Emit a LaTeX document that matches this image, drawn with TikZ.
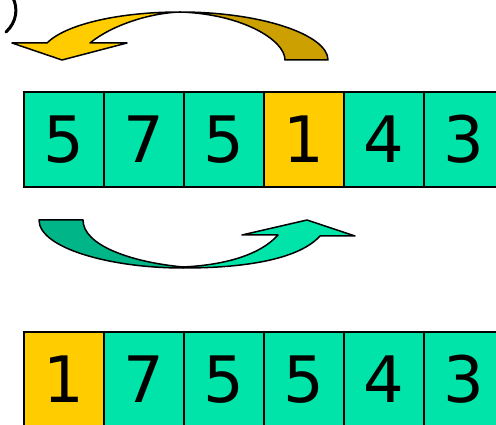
\documentclass[tikz,border=0pt]{standalone}
\usepackage{fontspec}
\setmainfont{DejaVu Sans}
\definecolor{cellgreen}{RGB}{0,228,170}
\definecolor{darkgreen}{RGB}{0,182,136}
\definecolor{pickyellow}{RGB}{255,204,0}
\definecolor{darkgold}{RGB}{204,160,0}

\begin{document}
\begin{tikzpicture}[x=1pt, y=-1pt, line width=1.5pt,
    cell/.style={draw, fill=cellgreen, minimum width=80pt, minimum height=95pt,
                 inner sep=0pt, font=\fontsize{64}{64}\selectfont},
    swoop/.style={draw, line join=round}]
    \useasboundingbox (0,0) rectangle (496,425);
    \clip (0,0) rectangle (496,425);

    % Bracket at the corner
    \draw[line width=3pt, line cap=round] (13,-2) .. controls (18,8) and (17,22) .. (6,32);

    % Row before the move
    \foreach \v/\c [count=\i] in {5/cellgreen, 7/cellgreen, 5/cellgreen, 1/pickyellow, 4/cellgreen, 3/cellgreen}
        \node[cell, fill=\c] (t\i) at (-16+80*\i, 139.5) {\v};

    % Row after the move
    \foreach \v/\c [count=\i] in {1/pickyellow, 7/cellgreen, 5/cellgreen, 5/cellgreen, 4/cellgreen, 3/cellgreen}
        \node[cell, fill=\c] (b\i) at (-16+80*\i, 379.5) {\v};

    % Yellow arrow over the top row
    \filldraw[swoop, fill=darkgold] (180,12) .. controls (262,12) and (328,35) .. (328,60)
        -- (285,60) .. controls (285,40) and (242,14) .. cycle;
    \filldraw[swoop, fill=pickyellow] (180,12) .. controls (120,12) and (66,24) .. (47,43)
        -- (12,43) -- (62,60) -- (127,43) -- (90,43) .. controls (112,25) and (150,13) .. cycle;

    % Green arrow under the top row
    \filldraw[swoop, fill=darkgreen] (39,220) .. controls (39,248) and (110,268) .. (183,268)
        -- (183,267) .. controls (130,262) and (83,245) .. (83,220) -- cycle;
    \filldraw[swoop, fill=cellgreen] (183,268) .. controls (250,268) and (300,258) .. (320,236)
        -- (355,236) -- (307,220) -- (242,235) -- (278,235) .. controls (260,255) and (225,265) .. (183,267) -- cycle;
\end{tikzpicture}
\end{document}
